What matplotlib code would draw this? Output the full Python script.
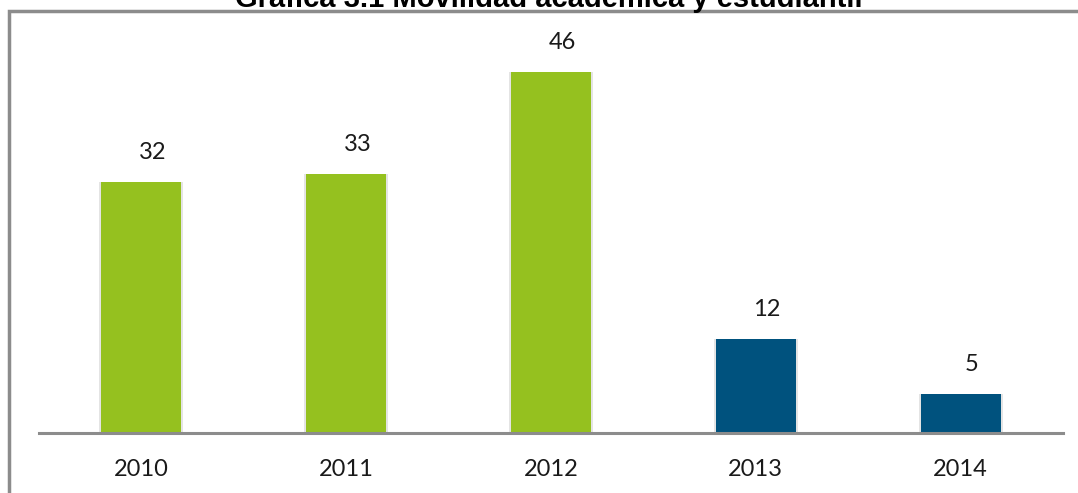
import matplotlib.pyplot as plt
from matplotlib.patches import Rectangle

# Data
years = ['2010', '2011', '2012', '2013', '2014']
values = [32, 33, 46, 12, 5]
colors = ['#95C11F', '#95C11F', '#95C11F', '#00527E', '#00527E']

fig = plt.figure(figsize=(10.78, 4.93), dpi=100)
ax = fig.add_axes([39 / 1078, 60 / 493, 1024 / 1078, 392 / 493])

x = range(len(years))
# soft shadow behind bars
ax.bar(x, values, width=0.41, color='#E4E4E4', zorder=1)
ax.bar(x, values, width=0.39, color=colors, zorder=2)

for xi, v in zip(x, values):
    ax.text(xi + 0.055, v + 2.4, str(v), ha='center', va='bottom',
            fontsize=17, family='Lato', color='#1A1A1A')

ax.set_xlim(-0.5, 4.5)
ax.set_ylim(0, 49.9)
ax.set_xticks(list(x))
ax.set_xticklabels(years, fontsize=17, family='Lato', color='#1A1A1A')
ax.tick_params(axis='x', length=0, pad=19)
ax.set_yticks([])
for s in ['top', 'right', 'left']:
    ax.spines[s].set_visible(False)
ax.spines['bottom'].set_color('#8C8C8C')
ax.spines['bottom'].set_linewidth(2.2)

# outer frame
fig.patches.append(Rectangle((9 / 1078, -0.1), 1.2, 1 - 11 / 493 + 0.1,
                             transform=fig.transFigure, fill=False,
                             edgecolor='#8C8C8C', linewidth=2.5))

fig.text(549 / 1078, 1 - 7 / 493, 'Gráfica 3.1 Movilidad académica y estudiantil',
         ha='center', va='baseline', fontsize=21, fontweight='bold',
         family='Liberation Sans')

fig.savefig('out.png', dpi=100)
